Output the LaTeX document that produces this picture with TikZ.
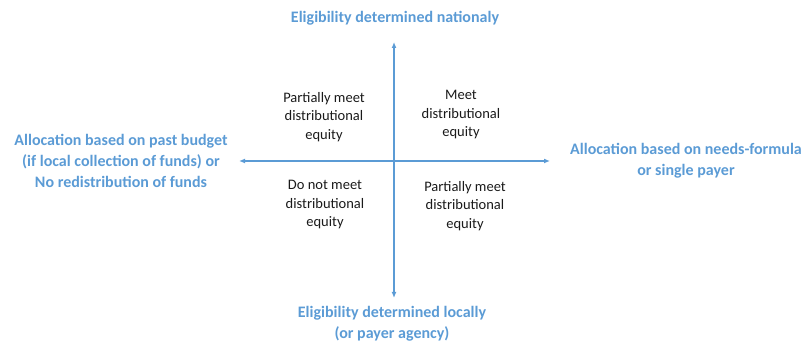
\documentclass[tikz,border=0pt]{standalone}
\usepackage{fontspec}
\setmainfont{Carlito}
\usetikzlibrary{arrows.meta}
\definecolor{axisblue}{HTML}{5B9BD5}
\definecolor{quadtext}{HTML}{1A1A1A}
\tikzset{
  axislabel/.style={text=axisblue, font=\bfseries\fontsize{16}{21}\selectfont, align=center, inner sep=0pt},
  quadlabel/.style={text=quadtext, font=\fontsize{14.5}{18.5}\selectfont, align=center, inner sep=0pt},
  axisarrow/.style={draw=axisblue, line width=1.3pt, -{Latex[length=6pt,width=5pt]}}
}
\begin{document}
\begin{tikzpicture}[x=1pt,y=1pt]
\useasboundingbox (0,0) rectangle (807,-344);
\coordinate (c) at (394,-161);
\coordinate (top) at (394,-42);
\coordinate (bot) at (394,-298);
\coordinate (left) at (239,-161);
\coordinate (right) at (550,-161);
\draw[axisarrow] (c) -- (top);
\draw[axisarrow] (c) -- (bot);
\draw[axisarrow] (c) -- (left);
\draw[axisarrow] (c) -- (right);
\node[axislabel] (ntop) at (395,-18) {Eligibility determined nationaly};
\node[axislabel] (nbot) at (392,-324) {Eligibility determined locally\\(or payer agency)};
\node[axislabel] (nleft) at (121,-161) {Allocation based on past budget\\(if local collection of funds) or\\No redistribution of funds};
\node[axislabel] (nright) at (686,-161) {Allocation based on needs-formula\\or single payer};
\node[quadlabel] (tl) at (324,-117) {Partially meet\\distributional\\equity};
\node[quadlabel] (tr) at (461,-115) {Meet\\distributional\\equity};
\node[quadlabel] (bl) at (325,-205) {Do not meet\\distributional\\equity};
\node[quadlabel] (br) at (465,-206) {Partially meet\\distributional\\equity};
\end{tikzpicture}
\end{document}
